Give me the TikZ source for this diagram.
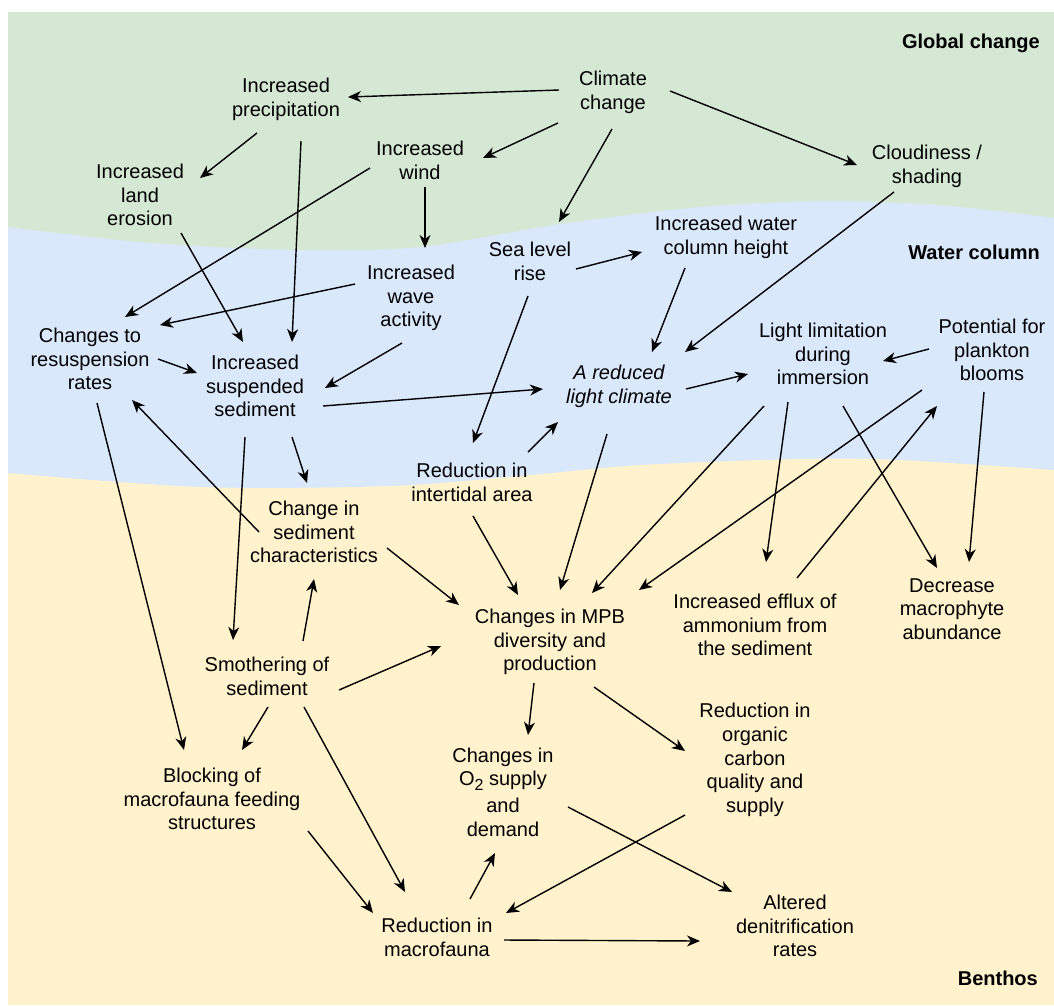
\documentclass[tikz,border=0pt]{standalone}
\usepackage{fontspec}
\setmainfont{Liberation Sans}
\usetikzlibrary{arrows.meta}
\definecolor{gcol}{HTML}{D5E8D4}
\definecolor{wcol}{HTML}{DAE8FC}
\definecolor{bcol}{HTML}{FFF2CC}
\newcommand\conn[4]{\draw[arr] ([shift={(#2)}]#1.center) -- ([shift={(#4)}]#3.center);}
\tikzset{
  lbl/.style={font=\fontsize{20}{23.7}\selectfont, align=center, inner sep=0pt},
  hdr/.style={font=\fontsize{20}{23.7}\selectfont\bfseries, inner sep=0pt, anchor=east},
  arr/.style={line width=1.4pt, -{Stealth[length=13pt,width=11pt,inset=4pt]}},
}
\begin{document}
\begin{tikzpicture}[x=1pt,y=-1pt]
\useasboundingbox (0,0) rectangle (1054,1005);
\fill[white] (0,0) rectangle (1054,1005);
% zones
\fill[bcol] (8,12) rectangle (1054,1005);
\fill[wcol] (8,12) -- (1054,12) -- plot[smooth] coordinates {(1054,470) (900,460) (800,459) (640,465) (520,476) (390,486) (200,487) (8,473)} -- cycle;
\fill[gcol] (8,12) -- (1054,12) -- plot[smooth] coordinates {(1054,218) (950,206) (830,201) (700,207) (560,224) (420,247) (300,250) (150,243) (8,227)} -- cycle;
% zone labels
\node[hdr] (hg) at (1040,43) {Global change};
\node[hdr] (hw) at (1040,252) {Water column};
\node[hdr] (hb) at (1038,978) {Benthos};
% nodes
\node[lbl] (cc) at (613,92) {Climate\\change};
\node[lbl] (ip) at (286,99) {Increased\\precipitation};
\node[lbl] (wind) at (420,160) {Increased\\wind};
\node[lbl] (ero) at (140,195) {Increased\\land\\erosion};
\node[lbl] (cloud) at (927,166) {Cloudiness /\\shading};
\node[lbl] (slr) at (530,261) {Sea level\\rise};
\node[lbl] (wch) at (726,237) {Increased water\\column height};
\node[lbl] (wave) at (411,298) {Increased\\wave\\activity};
\node[lbl] (resus) at (90,359) {Changes to\\resuspension\\rates};
\node[lbl] (ss) at (255,386) {Increased\\suspended\\sediment};
\node[lbl, font=\fontsize{20}{23.7}\selectfont\itshape] (light) at (619,386) {A reduced\\light climate};
\node[lbl] (ll) at (823,354) {Light limitation\\during\\immersion};
\node[lbl] (pb) at (992,350) {Potential for\\plankton\\blooms};
\node[lbl] (inter) at (472,482) {Reduction in\\intertidal area};
\node[lbl] (sedc) at (314,532) {Change in\\sediment\\characteristics};
\node[lbl] (mpb) at (550,642) {Changes in MPB\\diversity and\\production};
\node[lbl] (eff) at (755,625) {Increased efflux of\\ammonium from\\the sediment};
\node[lbl] (mac) at (952,609) {Decrease\\macrophyte\\abundance};
\node[lbl] (smo) at (267,676) {Smothering of\\sediment};
\node[lbl] (orgc) at (755,760) {Reduction in\\organic\\carbon\\quality and\\supply};
\node[lbl] (o2) at (503,792) {Changes in\\O\raisebox{-5pt}{\fontsize{16}{16}\selectfont 2} supply\\[3pt]and\\demand};
\node[lbl] (blk) at (212,799) {Blocking of\\macrofauna feeding\\structures};
\node[lbl] (rmf) at (437,937) {Reduction in\\macrofauna};
\node[lbl] (den) at (795,926) {Altered\\denitrification\\rates};
% connectors
\conn{cc}{-54,-2}{ip}{62,-2}
\conn{cc}{-55,31}{wind}{63,-2}
\conn{cc}{-1,37}{slr}{29,-39}
\conn{cc}{57,-1}{cloud}{-70,-1}
\conn{ip}{-29,34}{ero}{60,-17}
\conn{ip}{15,42}{ss}{37,-44}
\conn{wind}{-50,8}{resus}{35,-42}
\conn{wind}{5,27}{wave}{14,-50}
\conn{ero}{41,38}{ss}{-12,-44}
\conn{cloud}{-33,26}{light}{66,-34}
\conn{slr}{46,8}{wch}{-84,15}
\conn{slr}{-2,35}{inter}{1,-39}
\conn{wch}{-41,31}{light}{33,-34}
\conn{wave}{-56,-14}{resus}{70,-34}
\conn{wave}{-9,45}{ss}{70,2}
\conn{resus}{68,0}{ss}{-58,-13}
\conn{ss}{68,20}{light}{-76,3}
\conn{light}{67,3}{ll}{-75,20}
\conn{pb}{-63,-1}{ll}{60,7}
\conn{ss}{37,51}{sedc}{-7,-49}
\conn{ss}{-10,51}{smo}{-34,-36}
\conn{sedc}{-55,0}{resus}{42,41}
\conn{resus}{7,44}{blk}{-28,-49}
\conn{inter}{56,-30}{light}{-61,36}
\conn{inter}{1,34}{mpb}{-32,-47}
\conn{light}{-12,48}{mpb}{10,-52}
\conn{ll}{-59,52}{mpb}{42,-49}
\conn{pb}{-70,40}{mpb}{89,-52}
\conn{ll}{-35,48}{eff}{11,-63}
\conn{ll}{20,52}{mac}{-15,-41}
\conn{eff}{42,-47}{pb}{-55,56}
\conn{pb}{-8,42}{mac}{17,-47}
\conn{sedc}{73,16}{mpb}{-91,-37}
\conn{smo}{36,-35}{sedc}{0,47}
\conn{smo}{72,14}{mpb}{-109,4}
\conn{smo}{1,31}{blk}{30,-49}
\conn{smo}{37,31}{rmf}{-32,-45}
\conn{blk}{96,32}{rmf}{-64,-24}
\conn{mpb}{-16,41}{o2}{25,-57}
\conn{mpb}{44,45}{orgc}{-70,-9}
\conn{o2}{65,15}{den}{-63,-34}
\conn{orgc}{-70,55}{rmf}{69,-24}
\conn{rmf}{33,-38}{o2}{-8,61}
\conn{rmf}{67,3}{den}{-95,15}
\end{tikzpicture}
\end{document}
